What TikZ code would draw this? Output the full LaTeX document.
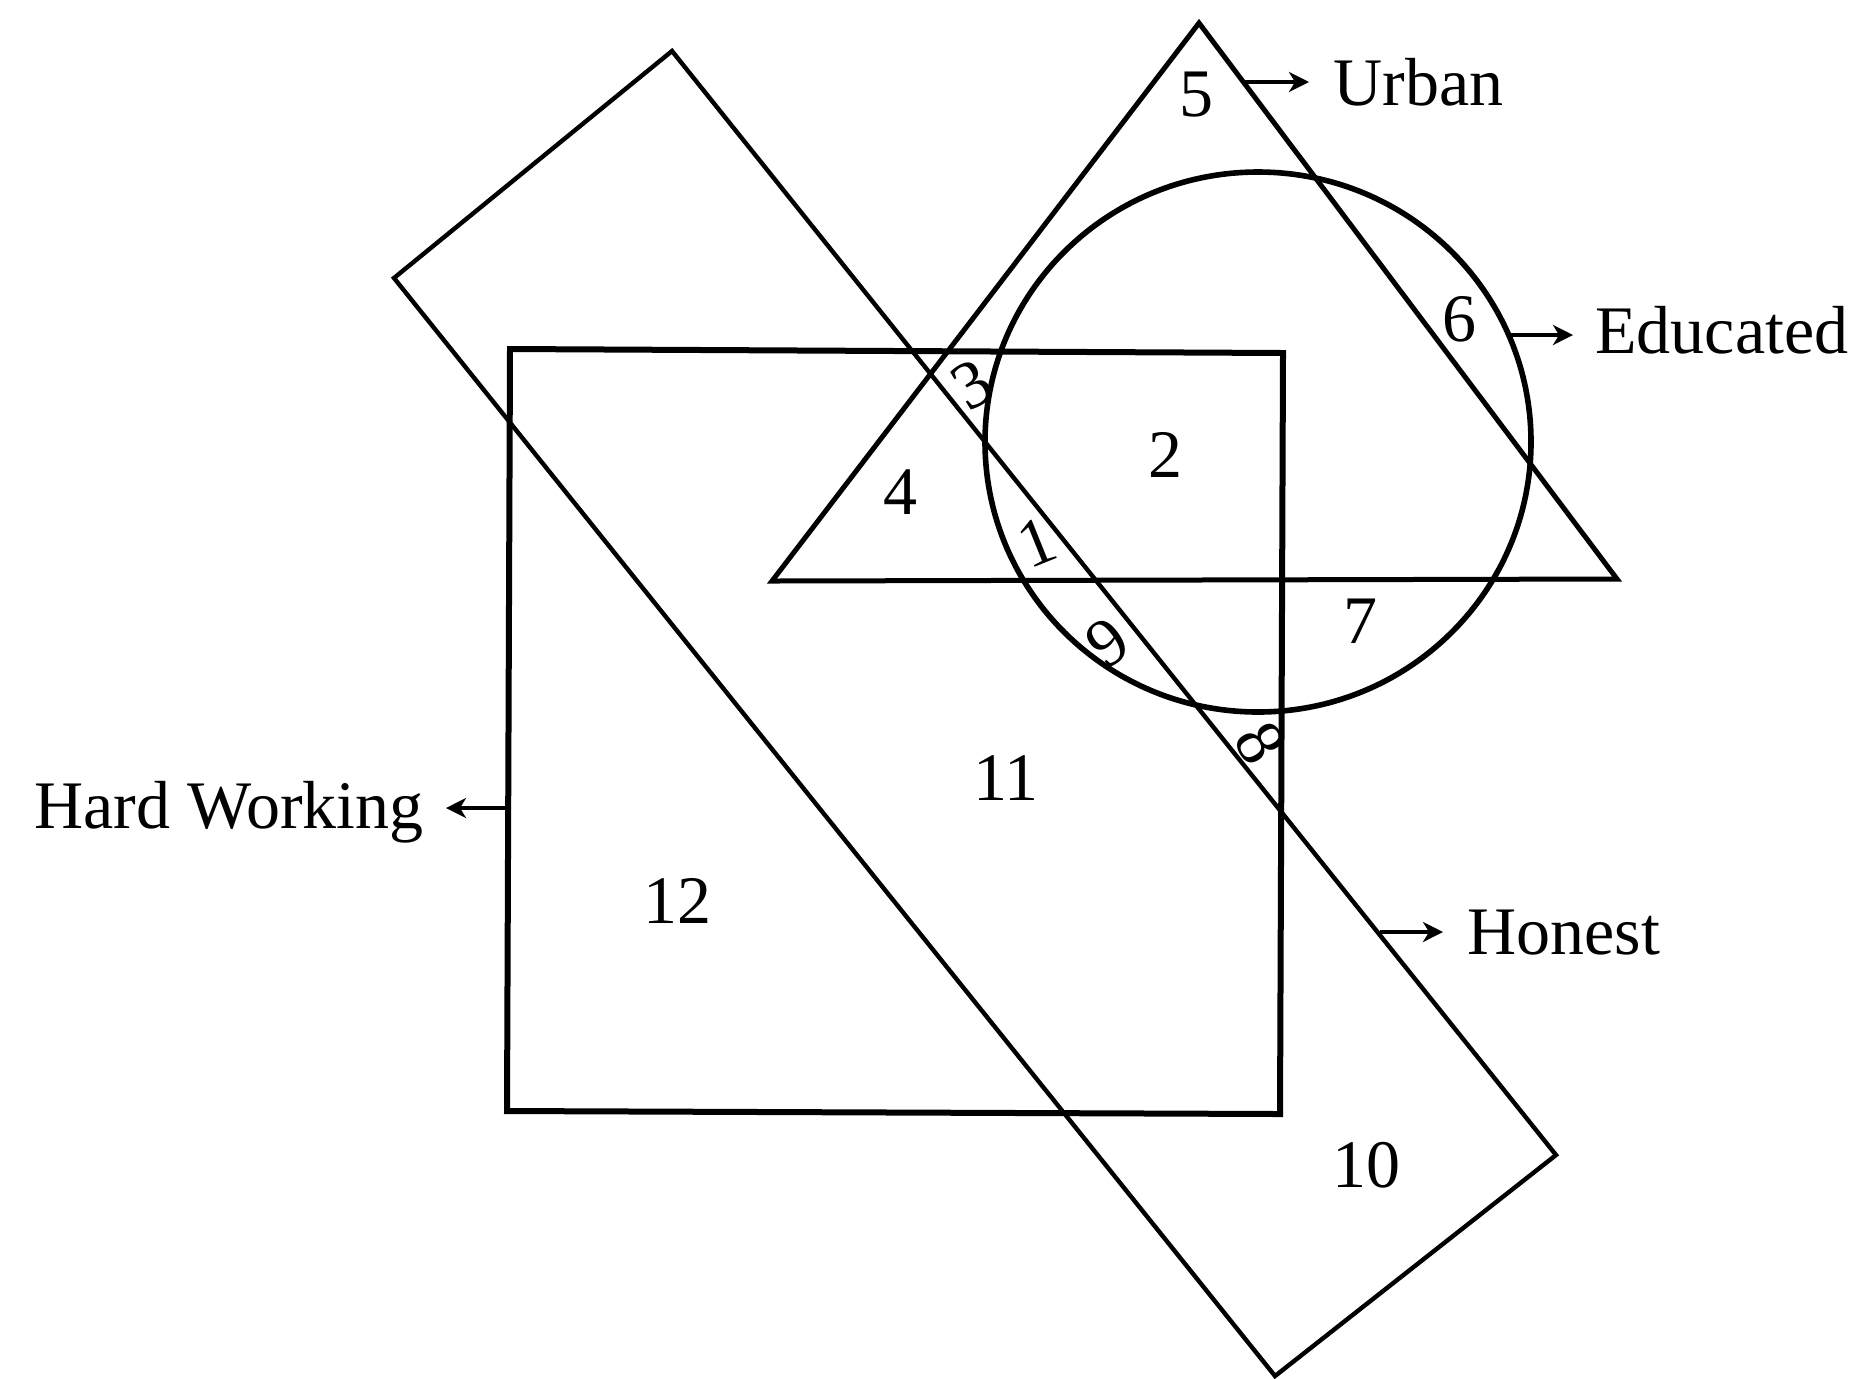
\documentclass[tikz,border=0pt]{standalone}
\usepackage{fontspec}
\setmainfont{Liberation Serif}
\usetikzlibrary{arrows.meta}
\begin{document}
\begin{tikzpicture}[x=0.5pt,y=-0.5pt,
  shape line/.style={line width=2.5pt, line join=miter},
  lab/.style={inner sep=0pt, font=\fontsize{34}{40}\selectfont},
  num/.style={inner sep=0pt, font=\fontsize{34}{40}\selectfont},
  pointer/.style={line width=1.8pt, -{Stealth[length=10pt,width=10pt,inset=3pt]}}]
\useasboundingbox (0,0) rectangle (1855,1378);
% Honest rectangle (tilted)
\draw[shape line, line width=2.2pt] (672,51) -- (1556,1155) -- (1275,1376) -- (394,278) -- cycle;
% Hard working square
\draw[shape line, line width=3pt] (510,349) -- (1283,353) -- (1280,1114) -- (507,1111) -- cycle;
% Urban triangle
\draw[shape line] (1199,23) -- (1617,579) -- (772,581) -- cycle;
% Educated circle
\draw[shape line, line width=2.8pt] (1258,442) ellipse [x radius=273, y radius=270];
% region numbers
\node[num] (n5) at (1196,95) {5};
\node[num] (n6) at (1459,319) {6};
\node[num, rotate=30] (n3) at (972,385) {3};
\node[num] (n2) at (1165,455) {2};
\node[num] (n4) at (900,492) {4};
\node[num, rotate=22] (n1) at (1037,542) {1};
\node[num, rotate=35] (n9) at (1108,643) {9};
\node[num] (n7) at (1360,621) {7};
\node[num, rotate=-60] (n8) at (1260,743) {8};
\node[num] (n11) at (1006,778) {11};
\node[num] (n12) at (677,901) {12};
\node[num] (n10) at (1366,1165) {10};
% labels
\node[lab, anchor=base west] (urban) at (1333,105) {Urban};
\node[lab, anchor=base west] (educated) at (1595,353) {Educated};
\node[lab, anchor=base east] (hard) at (424,828) {Hard Working};
\node[lab, anchor=base west] (honest) at (1467,954) {Honest};
% arrow starts
\coordinate (au) at (1243,82);
\coordinate (ae) at (1510,335);
\coordinate (ah) at (508,808);
\coordinate (ao) at (1380,932);
\draw[pointer, shorten >=12pt] (au) -- (au -| urban.west);
\draw[pointer, shorten >=11pt] (ae) -- (ae -| educated.west);
\draw[pointer, shorten >=11pt] (ah) -- (ah -| hard.east);
\draw[pointer, shorten >=12pt] (ao) -- (ao -| honest.west);
\end{tikzpicture}
\end{document}
